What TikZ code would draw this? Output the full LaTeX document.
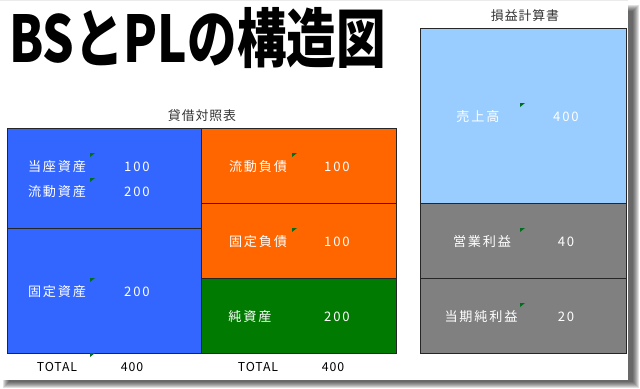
\documentclass[tikz,border=0pt]{standalone}
\usepackage{fontspec}
\setmainfont{Noto Sans CJK JP}
\newfontfamily\lblfont[LetterSpace=14]{Noto Sans CJK JP}
\newfontfamily\hdrfont[LetterSpace=7]{Noto Sans CJK JP}
\usepackage{graphicx}
\definecolor{bsblue}{RGB}{51,102,255}
\definecolor{bsorange}{RGB}{255,102,0}
\definecolor{bsgreen}{RGB}{0,122,0}
\definecolor{plblue}{RGB}{153,204,255}
\definecolor{plgray}{RGB}{128,128,128}
\definecolor{markgreen}{RGB}{0,110,30}
\tikzset{lbl/.style = {text=white, inner sep=0pt, font=\lblfont\fontsize{11.2}{12}\selectfont},
         hdr/.style = {text=black!80, inner sep=0pt, font=\hdrfont\fontsize{11}{12}\selectfont},
         tot/.style = {text=black, inner sep=0pt, font=\hdrfont\fontsize{10.5}{12}\selectfont},
         cell/.style = {draw=black!85, line width=0.6pt}}

\begin{document}
\begin{tikzpicture}[x=0.03cm,y=-0.03cm]
\useasboundingbox (0,0) rectangle (640,388);
% shadow and card
\foreach \d in {0,...,6}
  \fill[black,opacity=0.12] (3+\d,5+\d) rectangle (639-\d,388-\d);
\fill[white] (0,0) rectangle (628,380);
\draw[black!8] (0,0.5) -- (628,0.5);

\node[anchor=base west, inner sep=0pt, font=\bfseries\fontsize{47}{50}\selectfont]
  (title) at (9,62) {\scalebox{0.9}[1.17]{BSとPLの構造図}};

% balance sheet
\node[hdr] (bsTitle) at (202,116) {貸借対照表};
\draw[cell, fill=bsblue]   (7,128)   rectangle (201,228);
\draw[cell, fill=bsblue]   (7,228)   rectangle (201,353);
\draw[cell, fill=bsorange] (201,128) rectangle (396,203);
\draw[cell, fill=bsorange] (201,203) rectangle (396,278);
\draw[cell, fill=bsgreen]  (201,278) rectangle (396,353);

\node[lbl] (tozaLbl) at (57,167) {当座資産};
\node[lbl] (tozaVal) at (137,167) {100};
\node[lbl] (ryuLbl) at (57,192) {流動資産};
\node[lbl] (ryuVal) at (137,192) {200};
\node[lbl] (koteiLbl) at (57,292) {固定資産};
\node[lbl] (koteiVal) at (137,292) {200};

\node[lbl] (ryuFuLbl) at (258,167) {流動負債};
\node[lbl] (ryuFuVal) at (337,167) {100};
\node[lbl] (koFuLbl) at (258,242) {固定負債};
\node[lbl] (koFuVal) at (337,242) {100};
\node[lbl] (junLbl) at (250,317) {純資産};
\node[lbl] (junVal) at (337,317) {200};

\node[tot] (totA) at (57,367) {TOTAL};
\node[tot] (totAVal) at (132,367) {400};
\node[tot] (totB) at (258,367) {TOTAL};
\node[tot] (totBVal) at (333,367) {400};

% income statement
\node[hdr] (plTitle) at (525,16) {損益計算書};
\draw[cell, fill=plblue] (420,28)  rectangle (626,203);
\draw[cell, fill=plgray] (420,203) rectangle (626,278);
\draw[cell, fill=plgray] (420,278) rectangle (626,353);

\node[lbl] (uriLbl) at (478,117) {売上高};
\node[lbl] (uriVal) at (566,117) {400};
\node[lbl] (eigyoLbl) at (482,242) {営業利益};
\node[lbl] (eigyoVal) at (566,242) {40};
\node[lbl] (toukiLbl) at (481,317) {当期純利益};
\node[lbl] (toukiVal) at (566,317) {20};

% comment marks
\foreach \x/\y in {93/155, 93/180, 93/280, 93/355, 295/155, 295/230, 523/105, 523/230, 523/305}
  \fill[markgreen] (\x-3,\y-2) -- (\x+2,\y-2) -- (\x-3,\y+2) -- cycle;
\end{tikzpicture}
\end{document}
